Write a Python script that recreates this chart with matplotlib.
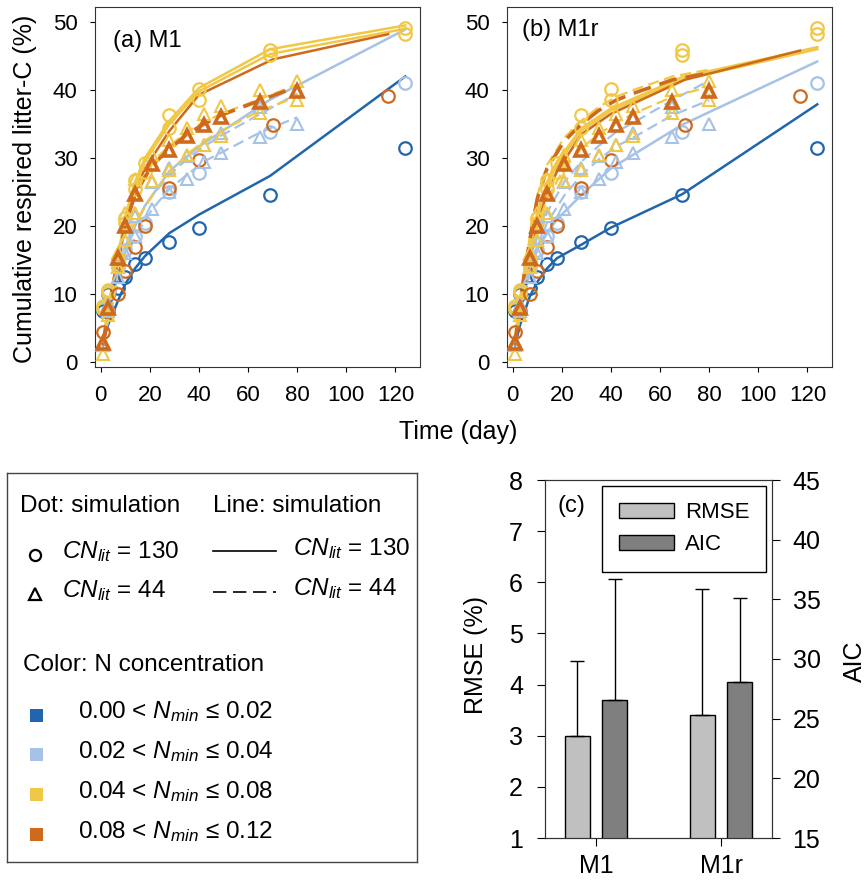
import matplotlib
matplotlib.use('Agg')
import matplotlib.pyplot as plt
from matplotlib.patches import Patch, Rectangle

plt.rcParams['font.family'] = ['Liberation Sans', 'DejaVu Sans']
plt.rcParams['mathtext.fontset'] = 'custom'
plt.rcParams['mathtext.rm'] = 'Liberation Sans'
plt.rcParams['mathtext.it'] = 'Liberation Sans:italic'

# ── colours ──────────────────────────────────────────────
DBLUE = '#2166ac'
LBLUE = '#a6c2e6'
YELLOW = '#f1c846'
ORANGE = '#cf6a1d'
GREY_L = '#c0c0c0'
GREY_D = '#7f7f7f'

# ── observation times (day) ──────────────────────────────
t130 = [1, 3, 7, 10, 14, 18, 28, 40, 69, 124]
t130_or = [1, 3, 7, 10, 14, 18, 28, 40, 70, 117]
t44 = [1, 3, 7, 10, 14, 21, 28, 35, 42, 49, 65, 80]

# ── observed cumulative respired litter-C (%) ────────────
obs_dblue = [7.5, 10.0, 11.0, 12.5, 14.4, 15.4, 17.7, 19.8, 24.6, 31.5]
obs_lblue = [8.0, 10.5, 14.0, 16.5, 18.5, 20.5, 25.0, 27.8, 33.9, 41.1]
obs_yel_a = [8.3, 10.7, 15.0, 21.2, 26.8, 29.3, 36.4, 40.1, 45.9, 49.1]
obs_yel_b = [7.8, 10.2, 14.5, 20.5, 25.5, 28.0, 34.4, 38.6, 45.2, 48.3]
obs_orange = [4.4, 7.5, 10.0, 13.4, 17.0, 20.0, 25.6, 29.8, 34.9, 39.1]

obs44_lblue_a = [2.5, 7.5, 12.5, 16.0, 18.5, 22.5, 25.0, 27.0, 29.4, 30.7, 33.1, 35.0]
obs44_lblue_b = [2.5, 8.5, 14.0, 18.0, 21.5, 26.5, 28.5, 30.3, 32.0, 33.7, 37.5, 40.0]
obs44_yel_a = [1.2, 7.8, 16.0, 22.0, 27.0, 30.5, 32.7, 34.4, 36.5, 37.6, 40.0, 41.3]
obs44_yel_b = [3.0, 7.0, 14.0, 18.0, 22.0, 26.6, 28.3, 30.5, 32.0, 33.2, 36.6, 38.6]
obs44_orange = [2.8, 8.0, 15.4, 20.0, 24.7, 29.2, 31.2, 33.3, 34.9, 36.1, 38.3, 39.8]

# ── model M1 ─────────────────────────────────────────────
m1_dblue = [3.0, 5.5, 9.0, 11.5, 13.8, 15.6, 19.0, 21.7, 27.4, 42.0]
m1_lblue = [3.5, 7.0, 12.5, 16.1, 20.0, 23.0, 28.1, 31.7, 38.6, 48.9]
m1_yel_a = [3.0, 8.0, 15.5, 21.5, 26.5, 30.0, 35.5, 40.3, 46.0, 49.5]
m1_yel_b = [3.0, 7.8, 15.0, 21.0, 26.0, 29.5, 35.0, 39.8, 45.3, 49.0]
m1_orange = [2.5, 6.5, 14.5, 20.0, 24.8, 28.5, 34.0, 39.3, 44.5, 48.2]

m1_44_lblue_a = [2.5, 6.0, 11.5, 15.0, 18.5, 22.5, 25.5, 27.5, 29.5, 30.8, 33.8, 36.0]
m1_44_lblue_b = [2.5, 7.0, 13.0, 17.0, 20.5, 24.5, 27.5, 29.8, 31.7, 33.3, 36.5, 39.5]
m1_44_yel_a = [2.5, 8.0, 15.5, 20.5, 25.2, 29.5, 31.8, 33.8, 35.3, 36.5, 38.7, 40.8]
m1_44_yel_b = [2.5, 6.5, 12.5, 16.5, 20.5, 24.5, 27.9, 30.5, 32.5, 34.0, 37.0, 39.0]
m1_44_orange = [2.5, 7.5, 15.0, 20.0, 24.7, 29.0, 31.3, 33.5, 35.0, 36.3, 38.5, 40.5]

# ── model M1r ────────────────────────────────────────────
m1r_dblue = [2.5, 5.5, 9.7, 11.8, 13.8, 15.3, 17.3, 19.8, 24.7, 37.9]
m1r_lblue = [3.5, 7.5, 13.5, 16.5, 19.0, 21.0, 24.6, 28.5, 34.9, 44.2]
m1r_yel_a = [4.0, 9.0, 17.0, 22.0, 26.5, 29.5, 34.4, 37.3, 41.9, 46.3]
m1r_yel_b = [3.8, 8.6, 16.5, 21.5, 26.0, 29.0, 34.0, 37.0, 41.5, 46.0]
m1r_orange = [3.0, 7.0, 15.0, 20.0, 25.0, 28.0, 33.5, 36.5, 41.5, 45.8]

m1r_44_lblue_a = [2.5, 7.0, 13.0, 17.0, 20.5, 24.5, 27.5, 29.8, 31.7, 33.0, 36.3, 38.5]
m1r_44_lblue_b = [2.5, 7.5, 14.0, 18.5, 22.0, 26.5, 29.5, 31.8, 33.8, 35.2, 38.5, 41.4]
m1r_44_yel_a = [2.5, 9.5, 18.5, 24.5, 29.0, 33.0, 35.5, 37.5, 39.0, 40.0, 42.0, 43.0]
m1r_44_yel_b = [2.5, 8.0, 15.0, 20.0, 24.0, 28.5, 31.5, 33.5, 35.2, 36.5, 39.0, 40.5]
m1r_44_orange = [2.5, 9.0, 18.0, 24.0, 28.5, 32.5, 35.0, 37.0, 38.5, 39.5, 41.5, 42.5]

# ── panel (c) statistics ─────────────────────────────────
models = ['M1', 'M1r']
rmse = [3.0, 3.4]
rmse_err = [1.46, 2.46]
aic = [26.6, 28.1]
aic_err = [10.1, 7.0]

# ─────────────────────────────────────────────────────────
fig = plt.figure(figsize=(8.67, 8.85), dpi=100)
W, H = 867.0, 885.0


def px_axes(left, top, right, bottom):
    return fig.add_axes([left / W, 1 - bottom / H, (right - left) / W, (bottom - top) / H])


obs130 = [(t130, obs_dblue, DBLUE), (t130, obs_lblue, LBLUE), (t130, obs_yel_a, YELLOW),
          (t130, obs_yel_b, YELLOW), (t130_or, obs_orange, ORANGE)]
obs44 = [(t44, obs44_lblue_a, LBLUE), (t44, obs44_lblue_b, LBLUE), (t44, obs44_yel_a, YELLOW),
         (t44, obs44_yel_b, YELLOW), (t44, obs44_orange, ORANGE)]

sim = {
    'M1': ([m1_dblue, m1_lblue, m1_yel_a, m1_yel_b, m1_orange],
           [m1_44_lblue_a, m1_44_lblue_b, m1_44_yel_a, m1_44_yel_b, m1_44_orange]),
    'M1r': ([m1r_dblue, m1r_lblue, m1r_yel_a, m1r_yel_b, m1r_orange],
            [m1r_44_lblue_a, m1r_44_lblue_b, m1r_44_yel_a, m1r_44_yel_b, m1r_44_orange]),
}

ax_a = px_axes(95, 7, 420, 366.5)
ax_b = px_axes(507, 7, 832, 366.5)

for ax, key, lab, lx, ly in [(ax_a, 'M1', '(a) M1', 0.055, 0.906),
                             (ax_b, 'M1r', '(b) M1r', 0.045, 0.936)]:
    s130, s44 = sim[key]
    for (t, _, c), y in zip(obs130, s130):
        ax.plot(t, y, '-', color=c, lw=1.8, zorder=2)
    for (t, _, c), y in zip(obs44, s44):
        lw = 2.6 if c == ORANGE else 1.6
        ax.plot(t, y, '--', color=c, lw=lw, dashes=(5, 2.5), zorder=2)
    for t, y, c in obs130:
        ax.plot(t, y, 'o', ms=9, mfc='none', mec=c, mew=1.6, zorder=3)
    for t, y, c in obs44:
        mew = 2.6 if c == ORANGE else 1.5
        ax.plot(t, y, '^', ms=9, mfc='none', mec=c, mew=mew, zorder=3)
    ax.set_xlim(-2.3, 130)
    ax.set_ylim(-0.6, 52.2)
    ax.set_xticks(range(0, 121, 20))
    ax.set_yticks(range(0, 51, 10))
    ax.tick_params(labelsize=16, length=3.6, width=0.8, direction='out')
    ax.tick_params(axis='y', pad=9)
    ax.tick_params(axis='x', pad=10)
    for sp in ax.spines.values():
        sp.set_linewidth(0.8)
        sp.set_color('#333333')
    ax.text(lx, ly, lab, transform=ax.transAxes, fontsize=17, va='center', ha='left')

fig.text(458 / W, 1 - 432 / H, 'Time (day)', fontsize=18, ha='center', va='center')
fig.text(25 / W, 1 - 189 / H, 'Cumulative respired litter-C (%)', fontsize=18,
         rotation=90, ha='center', va='center')

# ── legend box ───────────────────────────────────────────
ax_l = px_axes(7, 473, 417, 862)
ax_l.set_xlim(0, 410)
ax_l.set_ylim(389, 0)
ax_l.set_xticks([])
ax_l.set_yticks([])
for sp in ax_l.spines.values():
    sp.set_linewidth(1.0)
    sp.set_color('#444444')

fs = 17.5
ax_l.text(13, 33, 'Dot: simulation', fontsize=fs, va='center')
ax_l.text(206, 33, 'Line: simulation', fontsize=fs, va='center')
ax_l.plot([28], [82], 'o', ms=8, mfc='none', mec='k', mew=1.6)
ax_l.plot([28], [121], '^', ms=8, mfc='none', mec='k', mew=1.6)
ax_l.text(55, 79, r'$CN_{lit}$ = 130', fontsize=fs, va='center')
ax_l.text(55, 118, r'$CN_{lit}$ = 44', fontsize=fs, va='center')
ax_l.plot([206, 269], [78, 78], '-', color='k', lw=1.2)
ax_l.plot([206, 269], [119, 119], '--', color='k', lw=1.2, dashes=(8, 4))
ax_l.text(286, 76, r'$CN_{lit}$ = 130', fontsize=fs, va='center')
ax_l.text(286, 116, r'$CN_{lit}$ = 44', fontsize=fs, va='center')
ax_l.text(16, 192, 'Color: N concentration', fontsize=fs, va='center')

bins = ['0.00 < $N_{min}$ ≤ 0.02', '0.02 < $N_{min}$ ≤ 0.04',
        '0.04 < $N_{min}$ ≤ 0.08', '0.08 < $N_{min}$ ≤ 0.12']
bin_colors = [DBLUE, LBLUE, YELLOW, ORANGE]
for i, (txt, c) in enumerate(zip(bins, bin_colors)):
    yy = 242 + i * 39.7
    ax_l.add_patch(Rectangle((22.5, yy - 6.5), 13, 13, color=c, lw=0))
    ax_l.text(71, yy - 3, txt, fontsize=fs, va='center')

# ── panel (c) ────────────────────────────────────────────
ax_c = px_axes(545, 480, 772, 838)
ax_c2 = ax_c.twinx()
x = list(range(len(models)))
xr = [v - 0.15 for v in x]
xa = [v + 0.15 for v in x]
ax_c.bar(xr, rmse, width=0.2, color=GREY_L, edgecolor='k', lw=1.0, zorder=2)
ax_c.errorbar(xr, rmse, yerr=[[0] * len(rmse), rmse_err], fmt='none', ecolor='k',
              elinewidth=1.0, capsize=5, capthick=1.0, zorder=3)
ax_c2.bar(xa, aic, width=0.2, color=GREY_D, edgecolor='k', lw=1.0, zorder=2)
ax_c2.errorbar(xa, aic, yerr=[[0] * len(aic), aic_err], fmt='none', ecolor='k',
               elinewidth=1.0, capsize=5, capthick=1.0, zorder=3)
ax_c.set_xlim(-0.406, 1.406)
ax_c.set_ylim(1, 8)
ax_c2.set_ylim(15, 45)
ax_c.set_xticks(x)
ax_c.set_xticklabels(models)
ax_c.set_yticks(range(1, 9))
ax_c2.set_yticks(range(15, 46, 5))
ax_c.tick_params(labelsize=18, length=5.8, width=0.8)
ax_c.tick_params(axis='y', pad=10)
ax_c.tick_params(axis='x', pad=6)
ax_c2.tick_params(labelsize=18, length=5.8, width=0.8, pad=9)
for a in (ax_c, ax_c2):
    for sp in a.spines.values():
        sp.set_linewidth(0.8)
        sp.set_color('#333333')
ax_c.text(0.057, 0.926, '(c)', transform=ax_c.transAxes, fontsize=17, va='center')
fig.text(476 / W, 1 - 655 / H, 'RMSE (%)', fontsize=18, rotation=90, ha='center', va='center')
fig.text(855 / W, 1 - 661 / H, 'AIC', fontsize=18, rotation=90, ha='center', va='center')

leg = ax_c2.legend(handles=[Patch(fc=GREY_L, ec='k', lw=1.0, label='RMSE'),
                            Patch(fc=GREY_D, ec='k', lw=1.0, label='AIC')],
                   loc='upper right', fontsize=16, frameon=True, fancybox=False,
                   edgecolor='k', framealpha=1, handlelength=2.5, handleheight=0.65,
                   borderaxespad=0.25, borderpad=0.75, labelspacing=0.5, handletextpad=0.5)
leg.get_frame().set_linewidth(1.0)

fig.savefig('out.png', dpi=100)
